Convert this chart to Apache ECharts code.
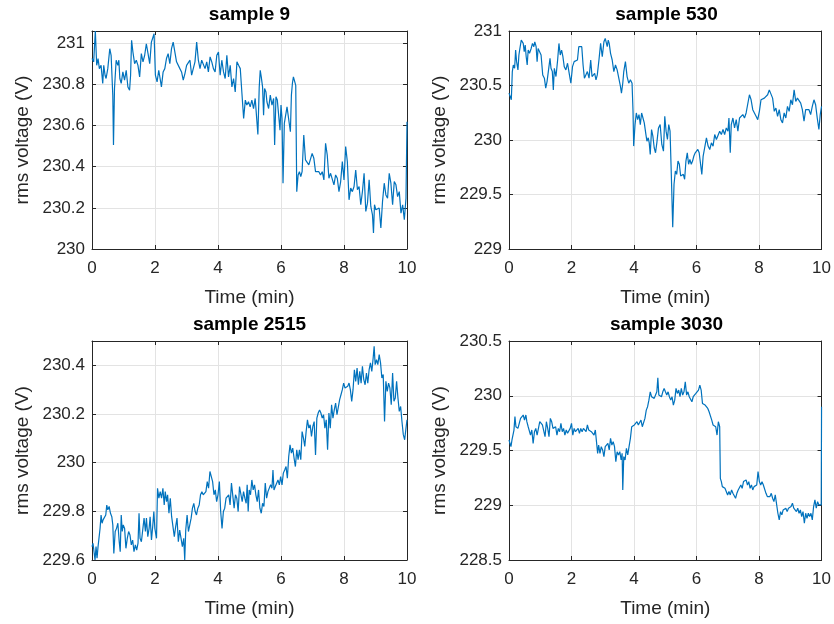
<!DOCTYPE html>
<html>
<head>
<meta charset="utf-8">
<title>rms voltage samples</title>
<script src="https://cdn.jsdelivr.net/npm/echarts@6/dist/echarts.min.js"></script>
<style>
  html, body { margin: 0; padding: 0; background: #ffffff; }
  #chart { width: 834px; height: 624px; }
</style>
</head>
<body>
<div id="chart"></div>
<script>
// Panel titles and y-axis ranges (min, max, step)
const panelTitles = ['sample 9', 'sample 530', 'sample 2515', 'sample 3030'];
const yMin = [230, 229, 229.6, 228.5];
const yMax = [231.06, 231, 230.5, 230.5];
const yStep = [0.2, 0.5, 0.2, 0.5];
const xRange = [0, 10];
const xStep = 2;

// sample 9: time (min) and rms voltage (V)
const t9 = [0.000,0.053,0.106,0.149,0.192,0.234,0.288,0.341,0.373,0.415,0.447,0.501,0.564,0.607,0.660,0.682,0.714,0.767,0.820,0.852,0.884,0.927,0.980,1.033,1.086,1.140,1.193,1.225,1.257,1.299,1.353,1.406,1.459,1.512,1.566,1.619,1.672,1.725,1.779,1.832,1.885,1.938,1.970,2.013,2.066,2.119,2.162,2.204,2.258,2.311,2.364,2.417,2.471,2.524,2.577,2.630,2.684,2.737,2.790,2.843,2.897,2.950,3.003,3.056,3.110,3.163,3.216,3.269,3.323,3.376,3.429,3.482,3.536,3.589,3.642,3.695,3.749,3.802,3.855,3.908,3.962,4.015,4.068,4.121,4.175,4.228,4.281,4.334,4.388,4.441,4.494,4.547,4.601,4.654,4.707,4.760,4.814,4.867,4.915,4.968,5.021,5.075,5.128,5.181,5.234,5.266,5.309,5.341,5.373,5.415,5.447,5.479,5.522,5.553,5.607,5.660,5.713,5.766,5.798,5.840,5.883,5.926,5.968,6.000,6.032,6.064,6.106,6.149,6.191,6.245,6.298,6.330,6.362,6.394,6.436,6.468,6.500,6.543,6.585,6.628,6.670,6.723,6.777,6.830,6.883,6.936,6.989,7.043,7.096,7.149,7.202,7.255,7.309,7.362,7.415,7.468,7.521,7.574,7.628,7.681,7.734,7.787,7.840,7.894,7.947,8.000,8.053,8.106,8.160,8.213,8.266,8.319,8.372,8.426,8.479,8.532,8.585,8.638,8.692,8.745,8.798,8.851,8.904,8.936,8.968,9.011,9.064,9.117,9.170,9.223,9.277,9.330,9.383,9.436,9.489,9.543,9.596,9.649,9.702,9.755,9.809,9.862,9.915,9.968,10.000];
const v9 = [230.926,230.910,231.06,230.893,230.926,230.877,230.893,230.805,230.893,230.845,230.829,230.877,230.974,230.942,230.748,230.506,230.780,230.918,230.893,230.918,230.829,230.805,230.861,230.821,230.869,230.788,230.772,230.845,231.015,230.958,230.901,230.918,230.893,230.837,230.950,230.910,230.942,230.998,230.950,230.901,231.006,231.031,231.047,230.845,230.813,230.869,230.829,230.788,230.861,230.877,230.926,230.950,230.901,230.974,231.006,230.998,230.910,230.901,230.877,230.861,230.821,230.853,230.893,230.885,230.918,230.845,230.845,230.910,231.006,230.918,230.877,230.918,230.918,230.877,230.910,230.861,230.934,230.910,230.877,230.861,230.942,230.958,230.845,230.918,230.861,230.829,230.942,230.837,230.893,230.788,230.829,230.764,230.910,230.893,230.877,230.756,230.635,230.724,230.700,230.716,230.691,230.724,230.683,230.732,230.740,230.557,230.788,230.869,230.837,230.788,230.651,230.780,230.764,230.716,230.683,230.748,230.700,230.732,230.506,230.740,230.724,230.732,230.578,230.700,230.635,230.320,230.611,230.619,230.691,230.700,230.570,230.748,230.805,230.837,230.829,230.796,230.279,230.360,230.376,230.352,230.376,230.554,230.433,230.425,230.409,230.401,230.465,230.441,230.376,230.368,230.376,230.360,230.376,230.336,230.514,230.457,230.344,230.368,230.376,230.312,230.360,230.344,230.279,230.328,230.425,230.336,230.498,230.425,230.239,230.296,230.279,230.304,230.384,230.288,230.304,230.215,230.279,230.368,230.183,230.223,230.336,230.207,230.166,230.078,230.215,230.191,230.191,230.199,230.102,230.231,230.320,230.263,230.247,230.368,230.320,230.215,230.328,230.312,230.255,230.279,230.174,230.215,230.142,230.247,230.619];

// sample 530
const t530 = [0.000,0.042,0.074,0.106,0.138,0.180,0.212,0.243,0.286,0.317,0.349,0.392,0.423,0.455,0.487,0.519,0.550,0.582,0.614,0.656,0.709,0.751,0.794,0.825,0.868,0.899,0.931,0.974,1.026,1.079,1.132,1.175,1.217,1.259,1.312,1.344,1.386,1.418,1.450,1.503,1.556,1.598,1.640,1.683,1.725,1.767,1.820,1.873,1.926,1.979,2.032,2.085,2.138,2.190,2.233,2.275,2.328,2.370,2.413,2.455,2.508,2.561,2.614,2.656,2.698,2.741,2.783,2.825,2.878,2.931,2.984,3.037,3.079,3.111,3.143,3.175,3.206,3.249,3.302,3.354,3.407,3.460,3.513,3.566,3.598,3.640,3.672,3.725,3.778,3.831,3.884,3.937,3.968,3.989,4.032,4.074,4.116,4.159,4.201,4.243,4.286,4.328,4.381,4.413,4.455,4.487,4.519,4.561,4.603,4.646,4.688,4.730,4.783,4.836,4.889,4.942,4.984,5.026,5.069,5.111,5.153,5.196,5.238,5.280,5.323,5.365,5.407,5.450,5.492,5.534,5.577,5.619,5.661,5.704,5.746,5.788,5.831,5.873,5.915,5.958,6.000,6.042,6.085,6.127,6.169,6.212,6.265,6.317,6.370,6.423,6.476,6.529,6.582,6.635,6.688,6.741,6.794,6.847,6.899,6.952,7.005,7.037,7.079,7.111,7.164,7.217,7.270,7.323,7.376,7.429,7.481,7.534,7.587,7.640,7.693,7.746,7.799,7.852,7.905,7.958,8.011,8.063,8.116,8.169,8.222,8.275,8.328,8.381,8.434,8.487,8.540,8.593,8.646,8.698,8.751,8.804,8.857,8.910,8.963,9.016,9.069,9.122,9.175,9.228,9.280,9.333,9.386,9.439,9.492,9.545,9.598,9.651,9.704,9.757,9.810,9.862,9.915,9.958,10.000];
const v530 = [230.430,230.415,230.369,230.628,230.688,230.658,230.825,230.719,230.643,230.780,230.840,230.916,230.932,230.886,230.810,230.871,230.764,230.688,230.825,230.795,230.840,230.886,230.856,230.901,230.856,230.719,230.840,230.825,230.780,230.597,230.567,230.476,230.536,230.521,230.749,230.658,230.628,230.460,230.658,230.582,230.734,230.886,230.780,230.825,230.764,230.673,230.643,230.704,230.612,230.521,230.673,230.719,230.734,230.734,230.856,230.856,230.856,230.688,230.567,230.552,230.628,230.567,230.734,230.582,230.567,230.612,230.552,230.597,230.734,230.886,230.764,230.901,230.932,230.947,230.856,230.916,230.886,230.795,230.734,230.628,230.688,230.643,230.567,230.491,230.430,230.521,230.628,230.719,230.582,230.521,230.552,230.521,230.263,229.944,230.141,230.248,230.187,230.233,230.141,230.248,230.202,230.157,230.050,229.989,230.020,229.974,229.868,230.096,230.035,229.929,229.883,229.974,230.111,230.141,229.959,229.898,230.217,230.081,230.005,230.141,230.081,229.655,229.199,229.594,229.716,229.685,229.807,229.777,229.670,229.655,229.685,229.640,229.807,229.883,229.777,229.822,229.777,229.807,229.853,229.883,229.868,229.913,229.883,229.898,229.685,229.853,229.868,230.020,229.944,229.913,229.974,229.944,230.050,230.005,229.989,230.081,230.050,230.096,230.050,230.111,230.081,230.202,229.883,230.141,230.202,230.111,230.187,230.081,230.202,230.217,230.233,230.202,230.248,230.263,230.415,230.369,230.278,230.293,230.217,230.187,230.263,230.369,230.354,230.384,230.400,230.415,230.460,230.476,230.384,230.263,230.293,230.217,230.278,230.187,230.157,230.248,230.202,230.309,230.263,230.369,230.324,230.460,230.354,230.384,230.369,230.339,230.278,230.172,230.278,230.263,230.278,230.233,230.309,230.369,230.324,230.202,230.096,230.233,230.309];

// sample 2515
const t2515 = [0.000,0.032,0.064,0.096,0.128,0.160,0.192,0.224,0.256,0.288,0.320,0.352,0.395,0.437,0.469,0.501,0.544,0.587,0.629,0.661,0.693,0.736,0.779,0.821,0.864,0.896,0.928,0.960,0.992,1.035,1.077,1.120,1.163,1.205,1.248,1.291,1.333,1.376,1.419,1.461,1.493,1.525,1.568,1.611,1.653,1.696,1.728,1.771,1.813,1.845,1.888,1.931,1.963,1.995,2.048,2.080,2.123,2.165,2.208,2.251,2.293,2.325,2.368,2.400,2.443,2.485,2.528,2.571,2.613,2.656,2.699,2.741,2.784,2.827,2.869,2.912,2.944,2.976,3.019,3.061,3.104,3.147,3.189,3.232,3.275,3.317,3.360,3.403,3.445,3.488,3.531,3.573,3.616,3.659,3.701,3.744,3.787,3.829,3.872,3.915,3.957,4.000,4.043,4.085,4.128,4.171,4.213,4.256,4.299,4.341,4.384,4.427,4.469,4.512,4.555,4.597,4.640,4.683,4.725,4.768,4.811,4.853,4.894,4.926,4.958,4.990,5.032,5.075,5.117,5.160,5.202,5.245,5.287,5.330,5.373,5.415,5.458,5.500,5.543,5.585,5.628,5.670,5.713,5.745,5.777,5.819,5.862,5.904,5.947,5.989,6.032,6.074,6.117,6.160,6.202,6.245,6.287,6.330,6.372,6.415,6.457,6.500,6.543,6.585,6.628,6.670,6.713,6.755,6.798,6.840,6.883,6.926,6.968,7.011,7.053,7.096,7.138,7.181,7.224,7.266,7.309,7.351,7.394,7.436,7.479,7.521,7.564,7.606,7.649,7.691,7.734,7.777,7.819,7.862,7.904,7.947,7.989,8.032,8.074,8.117,8.160,8.202,8.245,8.287,8.330,8.372,8.415,8.457,8.500,8.543,8.585,8.628,8.670,8.713,8.755,8.798,8.840,8.883,8.926,8.957,8.989,9.032,9.074,9.117,9.160,9.202,9.245,9.287,9.330,9.372,9.415,9.457,9.500,9.543,9.585,9.628,9.670,9.713,9.755,9.798,9.840,9.883,9.926,9.968,10.000];
const v2515 = [229.655,229.669,229.634,229.600,229.655,229.607,229.655,229.662,229.730,229.785,229.751,229.765,229.758,229.785,229.826,229.806,229.820,229.792,229.778,229.744,229.627,229.717,229.730,229.751,229.675,229.634,229.785,229.717,229.744,229.730,229.648,229.689,229.717,229.703,229.662,229.682,229.634,229.662,229.641,229.669,229.792,229.689,229.675,229.682,229.772,229.717,229.772,229.696,229.730,229.778,229.682,229.744,229.799,229.730,229.689,229.895,229.854,229.881,229.854,229.895,229.826,229.881,229.840,229.868,229.792,229.854,229.778,229.772,229.696,229.737,229.772,229.675,229.723,229.689,229.655,229.689,229.600,229.723,229.785,229.717,229.744,229.772,229.813,229.833,229.799,229.785,229.813,229.826,229.868,229.881,229.868,229.874,229.881,229.922,229.895,229.964,229.957,229.922,229.868,229.888,229.840,229.868,229.922,229.799,229.730,229.799,229.813,229.854,229.847,229.868,229.826,229.916,229.909,229.813,229.868,229.854,229.799,229.902,229.909,229.840,229.881,229.854,229.833,229.909,229.799,229.888,229.868,229.929,229.888,229.909,229.868,229.840,229.888,229.813,229.792,229.833,229.820,229.916,229.854,229.881,229.874,229.909,229.895,229.970,229.888,229.902,229.895,229.929,229.909,229.943,229.909,229.957,229.970,229.984,229.936,230.025,230.073,230.039,230.060,230.019,229.984,230.053,230.012,230.053,230.012,230.128,230.101,230.067,230.128,230.176,230.142,230.156,230.108,230.149,230.169,230.032,230.183,230.204,230.217,230.204,230.183,230.197,230.142,230.176,230.053,230.204,230.142,230.238,230.183,230.217,230.245,230.197,230.204,230.259,230.279,230.300,230.327,230.307,230.314,230.314,230.327,230.300,230.252,230.300,230.382,230.334,230.389,230.320,230.375,230.327,230.396,230.341,230.320,230.368,230.327,230.382,230.410,230.375,230.430,230.478,230.403,230.423,230.403,230.444,230.410,230.348,230.362,230.169,230.334,230.293,230.327,230.307,230.238,230.368,230.252,230.266,230.334,230.266,230.211,230.231,230.169,230.115,230.094,230.142,230.176];

// sample 3030
const t3030 = [0.000,0.032,0.063,0.095,0.127,0.159,0.190,0.222,0.254,0.286,0.328,0.370,0.413,0.455,0.497,0.540,0.571,0.614,0.656,0.688,0.730,0.772,0.815,0.857,0.899,0.942,0.984,1.026,1.069,1.111,1.153,1.196,1.238,1.280,1.323,1.365,1.407,1.450,1.492,1.534,1.577,1.619,1.661,1.704,1.746,1.788,1.831,1.873,1.915,1.958,2.000,2.042,2.085,2.127,2.169,2.212,2.254,2.296,2.339,2.381,2.423,2.466,2.508,2.550,2.593,2.635,2.677,2.720,2.762,2.804,2.836,2.868,2.910,2.952,2.995,3.037,3.079,3.122,3.164,3.206,3.249,3.291,3.333,3.376,3.418,3.460,3.503,3.545,3.587,3.619,3.640,3.672,3.714,3.757,3.799,3.841,3.884,3.926,3.968,4.011,4.053,4.095,4.138,4.180,4.222,4.265,4.307,4.349,4.392,4.434,4.476,4.519,4.561,4.603,4.646,4.688,4.730,4.762,4.794,4.836,4.878,4.921,4.963,5.005,5.048,5.090,5.132,5.175,5.217,5.259,5.302,5.344,5.386,5.429,5.471,5.513,5.556,5.598,5.640,5.683,5.725,5.767,5.810,5.852,5.894,5.937,5.979,6.021,6.063,6.106,6.148,6.190,6.233,6.275,6.317,6.360,6.402,6.444,6.487,6.529,6.571,6.614,6.656,6.698,6.741,6.762,6.794,6.825,6.868,6.910,6.952,6.995,7.037,7.079,7.122,7.164,7.206,7.249,7.291,7.333,7.376,7.418,7.460,7.503,7.545,7.587,7.630,7.672,7.714,7.757,7.799,7.841,7.884,7.926,7.968,8.011,8.053,8.095,8.138,8.180,8.222,8.265,8.307,8.349,8.392,8.434,8.476,8.519,8.561,8.603,8.646,8.688,8.730,8.772,8.815,8.857,8.899,8.942,8.984,9.026,9.069,9.111,9.153,9.196,9.238,9.280,9.323,9.365,9.407,9.450,9.492,9.534,9.577,9.619,9.661,9.704,9.746,9.788,9.831,9.873,9.915,9.958,9.990,10.000];
const v3030 = [229.596,229.611,229.535,229.596,229.581,229.687,229.809,229.717,229.733,229.702,229.748,229.793,229.809,229.824,229.778,229.824,229.763,229.717,229.717,229.641,229.687,229.565,229.672,229.702,229.641,229.702,229.763,229.778,229.733,229.717,229.626,229.763,229.702,229.626,229.793,229.763,229.702,229.687,229.717,229.641,229.702,229.672,229.748,229.672,229.702,229.641,229.687,229.657,229.641,229.702,229.748,229.641,229.702,229.672,229.687,229.702,229.657,229.702,229.672,229.702,229.717,229.672,229.733,229.687,229.702,229.672,229.687,229.641,229.687,229.672,229.474,229.550,229.474,229.535,229.505,229.444,229.535,229.520,229.565,229.505,229.611,229.550,229.581,229.535,229.398,229.489,229.459,229.489,229.413,229.474,229.140,229.444,229.413,229.520,229.459,229.535,229.611,229.717,229.702,229.733,229.748,229.763,229.733,229.748,229.778,229.717,229.733,229.793,229.869,229.900,229.960,230.036,229.991,230.006,229.976,230.006,230.036,230.164,230.006,230.021,229.991,230.036,230.067,230.036,230.006,230.036,229.991,229.960,229.991,229.915,229.960,230.067,230.021,230.052,229.991,230.067,230.006,230.036,230.128,230.006,230.036,229.991,229.976,229.945,229.991,230.006,230.021,230.036,230.052,230.097,230.052,229.930,229.930,229.915,229.900,229.884,229.854,229.839,229.778,229.733,229.748,229.717,229.641,229.763,229.717,229.246,229.216,229.170,229.185,229.155,229.170,229.094,229.125,229.094,229.140,229.109,229.094,229.064,229.109,229.140,229.125,229.185,229.155,229.216,229.201,229.231,229.185,229.216,229.155,229.185,229.140,229.170,229.155,229.185,229.307,229.216,229.185,229.216,229.185,229.170,229.109,229.079,229.094,229.079,229.109,229.064,229.033,229.094,229.109,228.927,228.866,228.942,228.912,228.957,228.942,228.973,228.942,228.973,228.957,228.988,229.018,228.973,228.988,228.942,228.973,228.927,228.957,228.897,228.942,228.836,228.927,228.881,228.927,228.897,228.927,228.866,228.988,229.049,228.973,229.033,229.003,229.018,229.003,229.900];

const times = [t9, t530, t2515, t3030];
const volts = [v9, v530, v2515, v3030];

// Layout of the 2x2 subplot grid (pixels)
const gridLeft = [92, 509, 92, 509];
const gridTop = [31, 31, 341, 341];
const gridWidth = 315;
const gridHeight = [218, 218, 219, 219];

const FONT = '"Liberation Sans", Arial, Helvetica, sans-serif';
const INK = '#262626';
const GRIDC = '#e3e3e3';
const LINE = '#0072BD';

const grids = [], xAxes = [], yAxes = [], series = [], titles = [];

for (let i = 0; i < 4; i++) {
  grids.push({ left: gridLeft[i], top: gridTop[i], width: gridWidth, height: gridHeight[i], containLabel: false });

  const tickStyle = { show: true, inside: true, length: 4, lineStyle: { color: INK, width: 1 } };
  const lineStyle = { show: true, onZero: false, lineStyle: { color: INK, width: 1 } };

  // bottom x axis with labels
  xAxes.push({
    gridIndex: i, type: 'value', position: 'bottom',
    min: xRange[0], max: xRange[1], interval: xStep,
    name: 'Time (min)', nameLocation: 'middle', nameGap: 39,
    nameTextStyle: { fontFamily: FONT, fontSize: 19, color: INK },
    axisLine: lineStyle, axisTick: tickStyle,
    axisLabel: { fontFamily: FONT, fontSize: 17, color: INK, margin: 11 },
    splitLine: { show: true, lineStyle: { color: GRIDC, width: 1 } }
  });
  // top x axis: box edge with inward ticks
  xAxes.push({
    gridIndex: i, type: 'value', position: 'top',
    min: xRange[0], max: xRange[1], interval: xStep,
    axisLine: lineStyle, axisTick: tickStyle,
    axisLabel: { show: false }, splitLine: { show: false }
  });

  // left y axis with labels; the top label is drawn only when the range ends on a step
  const maxOnStep = Math.abs(Math.round(yMax[i] / yStep[i]) * yStep[i] - yMax[i]) < 1e-9;
  yAxes.push({
    gridIndex: i, type: 'value', position: 'left',
    min: yMin[i], max: yMax[i], interval: yStep[i],
    name: 'rms voltage (V)', nameLocation: 'middle', nameGap: 60,
    nameTextStyle: { fontFamily: FONT, fontSize: 19, color: INK },
    axisLine: lineStyle, axisTick: tickStyle,
    axisLabel: { fontFamily: FONT, fontSize: 17, color: INK, margin: 7, showMaxLabel: maxOnStep },
    splitLine: { show: true, lineStyle: { color: GRIDC, width: 1 } }
  });
  // right y axis: box edge with inward ticks
  yAxes.push({
    gridIndex: i, type: 'value', position: 'right',
    min: yMin[i], max: yMax[i], interval: yStep[i],
    axisLine: lineStyle, axisTick: tickStyle,
    axisLabel: { show: false }, splitLine: { show: false }
  });

  series.push({
    type: 'line', xAxisIndex: 2 * i, yAxisIndex: 2 * i,
    data: times[i].map((t, k) => [t, volts[i][k]]),
    showSymbol: false, symbol: 'none',
    lineStyle: { color: LINE, width: 1.2 },
    animation: false, silent: true
  });

  titles.push({
    text: panelTitles[i],
    left: gridLeft[i] + gridWidth / 2,
    top: gridTop[i] - 26,
    textAlign: 'center',
    padding: 0,
    textStyle: { fontFamily: FONT, fontSize: 19, fontWeight: 'bold', color: '#000000' }
  });
}

const chart = echarts.init(document.getElementById('chart'), null, { renderer: 'canvas' });
chart.setOption({
  backgroundColor: '#ffffff',
  animation: false,
  title: titles,
  grid: grids,
  xAxis: xAxes,
  yAxis: yAxes,
  series: series
});
</script>
</body>
</html>
